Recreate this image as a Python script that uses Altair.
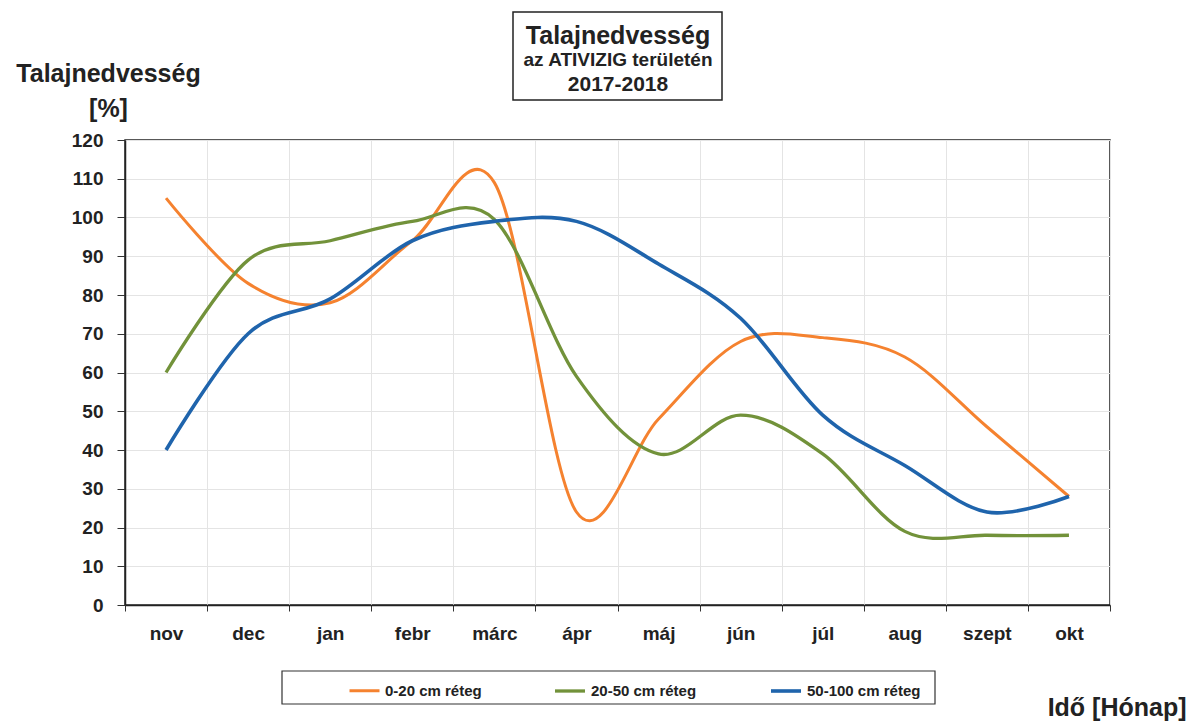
import json
import altair as alt
import pandas as pd

months = ["nov", "dec", "jan", "febr", "márc", "ápr", "máj", "jún", "júl", "aug", "szept", "okt"]
series_names = ["0-20 cm réteg", "20-50 cm réteg", "50-100 cm réteg"]
layer_0_20 = [105, 83, 78, 94, 109, 24, 48, 68, 69, 64, 46, 28]
layer_20_50 = [60, 89, 94, 99, 99.5, 59, 39, 49, 39, 19, 18, 18]
layer_50_100 = [40, 70, 79, 94, 99, 99, 88, 74, 49, 36, 24, 28]
colors = ["#F5822F", "#72923A", "#1F64AC"]
widths = [3, 3.6, 5]
y_ticks = list(range(0, 121, 10))

title_lines = ["Talajnedvesség", "az ATIVIZIG területén", "2017-2018"]
y_title = ["Talajnedvesség", "[%]"]
x_title = "Idő [Hónap]"

FONT = "Liberation Sans"

rows = []
for name, vals in zip(series_names, [layer_0_20, layer_20_50, layer_50_100]):
    for i, v in enumerate(vals):
        rows.append({"idx": i, "honap": months[i], "val": v, "series": name})
df = pd.DataFrame(rows)

x_vals = [i / 2 for i in range(-1, 24)]
label_expr = json.dumps(months, ensure_ascii=False) + "[datum.value] || ''"

lines = alt.Chart(df).mark_line(interpolate="cardinal").encode(
    x=alt.X(
        "idx:Q",
        scale=alt.Scale(domain=[-0.5, 11.5], nice=False, zero=False),
        axis=alt.Axis(
            values=x_vals,
            labelExpr=label_expr,
            labelOverlap=False,
            labelFlush=False,
            labelFont=FONT,
            labelFontSize=19,
            labelFontWeight="bold",
            labelColor="#222222",
            labelPadding=13,
            tickSize=6,
            tickColor="#333333",
            tickOpacity={"condition": {"test": "datum.value % 1 !== 0", "value": 1}, "value": 0},
            grid=True,
            gridColor="#e4e4e4",
            gridOpacity={"condition": {"test": "datum.value % 1 !== 0", "value": 1}, "value": 0},
            domainColor="#222222",
            domainWidth=1.5,
            title=x_title,
            titleFont=FONT,
            titleFontSize=25,
            titleFontWeight="bold",
            titleColor="#222222",
            titleAlign="right",
            titleBaseline="middle",
            titleAnchor="start",
            titleX=1061,
            titleY=102,
        ),
    ),
    y=alt.Y(
        "val:Q",
        scale=alt.Scale(domain=[0, 120], nice=False),
        axis=alt.Axis(
            values=y_ticks,
            labelFont=FONT,
            labelFontSize=19,
            labelFontWeight="bold",
            labelColor="#222222",
            labelPadding=14,
            tickSize=8,
            tickColor="#333333",
            grid=True,
            gridColor="#e4e4e4",
            domainColor="#222222",
            domainWidth=1.5,
            title=y_title,
            titleFont=FONT,
            titleFontSize=25,
            titleFontWeight="bold",
            titleColor="#222222",
            titleAngle=0,
            titleAlign="center",
            titleBaseline="alphabetic",
            titleLineHeight=35,
            titleX=-17,
            titleY=-59,
        ),
    ),
    color=alt.Color(
        "series:N",
        sort=series_names,
        scale=alt.Scale(domain=series_names, range=colors),
        legend=alt.Legend(
            orient="none",
            legendX=223,
            legendY=534,
            direction="horizontal",
            title=None,
            symbolType="stroke",
            symbolSize=900,
            symbolStrokeWidth=4,
            labelFont=FONT,
            labelFontSize=15,
            labelFontWeight="bold",
            labelColor="#222222",
            labelOffset=4,
            columnPadding=66,
        ),
    ),
    strokeWidth=alt.StrokeWidth(
        "series:N",
        scale=alt.Scale(domain=series_names, range=widths),
        legend=None,
    ),
    detail="series:N",
)

one = pd.DataFrame({"k": [0]})

title_box = alt.Chart(one).mark_rect(
    fillOpacity=0, stroke="#222222", strokeWidth=1.5
).encode(
    x=alt.value(388), x2=alt.value(597), y=alt.value(-128), y2=alt.value(-40)
)

t1 = alt.Chart(one).mark_text(
    font=FONT, fontSize=25, fontWeight="bold", color="#222222", baseline="middle", align="center"
).encode(x=alt.value(493), y=alt.value(-104), text=alt.value(title_lines[0]))
t2 = alt.Chart(one).mark_text(
    font=FONT, fontSize=19, fontWeight="bold", color="#222222", baseline="middle", align="center"
).encode(x=alt.value(493), y=alt.value(-80), text=alt.value(title_lines[1]))
t3 = alt.Chart(one).mark_text(
    font=FONT, fontSize=21, fontWeight="bold", color="#222222", baseline="middle", align="center"
).encode(x=alt.value(493), y=alt.value(-55), text=alt.value(title_lines[2]))

legend_box = alt.Chart(one).mark_rect(
    fillOpacity=0, stroke="#333333", strokeWidth=1.2
).encode(
    x=alt.value(157), x2=alt.value(810), y=alt.value(531), y2=alt.value(564)
)

chart = alt.layer(lines, title_box, t1, t2, t3, legend_box).properties(
    width=985,
    height=465,
    autosize=alt.AutoSizeParams(type="none"),
    padding={"left": 117, "top": 132, "right": 79, "bottom": 120},
).configure_view(stroke="#222222", strokeWidth=1.5)

chart.save("out.html", embed_options={"renderer": "svg", "actions": False})
